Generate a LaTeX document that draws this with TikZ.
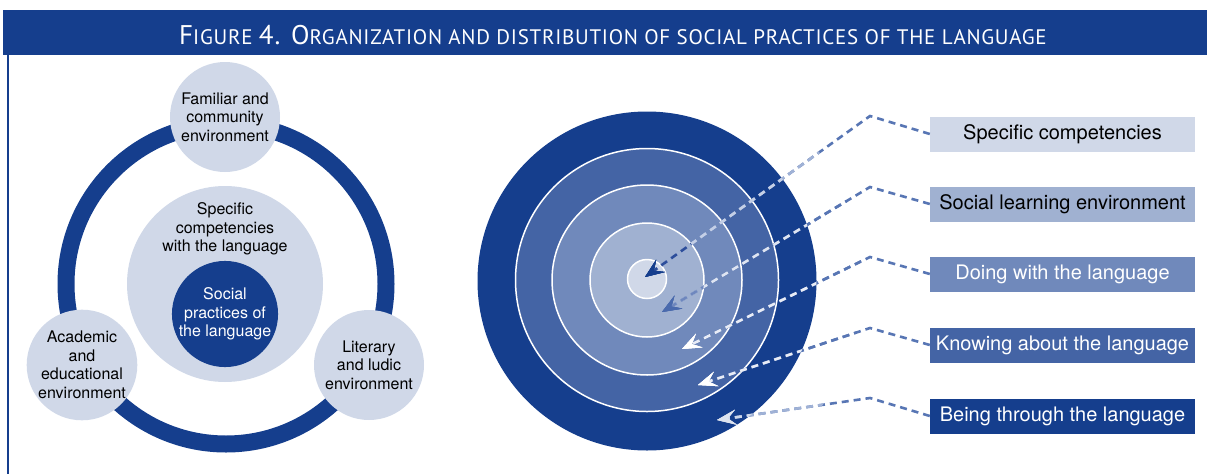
\documentclass[tikz,border=0pt]{standalone}
\usepackage{fontspec}
\setmainfont{TeX Gyre Heros}
\newfontfamily\titlefont[LetterSpace=3.5]{PT Sans}
\usetikzlibrary{arrows.meta}

\definecolor{navy}{RGB}{21,62,141}
\definecolor{pale}{RGB}{208,216,232}
\definecolor{soft}{RGB}{160,177,209}
\definecolor{mid}{RGB}{112,137,187}
\definecolor{deep}{RGB}{68,100,165}
\definecolor{linkblue}{RGB}{88,118,180}
\definecolor{fade}{RGB}{160,178,214}
\definecolor{haze}{RGB}{196,207,230}
\definecolor{mist}{RGB}{222,228,241}
\definecolor{frost}{RGB}{232,236,246}
\definecolor{ice}{RGB}{206,215,235}
\definecolor{core}{RGB}{45,78,155}
\definecolor{corelight}{RGB}{110,135,190}
\definecolor{headlight}{RGB}{74,106,173}
\definecolor{headice}{RGB}{221,227,239}

\newcommand{\titlecap}[1]{{\fontsize{27}{27}\selectfont #1}}
\newcommand{\titlesc}[1]{{\fontsize{21}{21}\selectfont #1}}

\begin{document}
\begin{tikzpicture}[x=1pt, y=-1pt,
    env/.style={circle, fill=pale, minimum size=110pt, inner sep=0pt, align=center, font=\fontsize{16}{18.5}\selectfont},
    layer/.style={minimum width=265pt, minimum height=35pt, inner sep=0pt, font=\fontsize{20}{24}\selectfont},
    link/.style={dash pattern=on 7pt off 5pt, line width=2.6pt},
    tip/.style={-{Stealth[length=19pt, width=15pt, inset=8pt, color=#1]}}]
  \useasboundingbox (0,0) rectangle (1207,474);

  % header
  \fill[navy] (3,10) rectangle (1207,55);
  \draw[navy, line width=2pt] (7.5,55) -- (7.5,474);
  \node[text=white, font=\titlefont, inner sep=0pt] (title) at (613,35)
    {\titlecap{F}\titlesc{IGURE }\titlecap{4. O}\titlesc{RGANIZATION AND DISTRIBUTION OF SOCIAL PRACTICES OF THE LANGUAGE}};

  % environments
  \draw[navy, line width=17pt] (226,284) circle[radius=160];
  \node[circle, fill=pale, minimum size=196pt, inner sep=0pt] (comp) at (225,284) {};
  \node[align=center, font=\fontsize{16}{18.5}\selectfont] (comptext) at (225,229) {Specific\\competencies\\with the language};
  \node[circle, fill=navy, text=white, minimum size=104pt, inner sep=0pt, align=center, font=\fontsize{16}{18.5}\selectfont] (social) at (225,314) {Social\\practices of\\the language};
  \node[env] (family) at (225,117) {Familiar and\\community\\environment};
  \node[env] (academic) at (82,365) {Academic\\and\\educational\\environment};
  \node[env] (literary) at (369,365) {Literary\\and ludic\\environment};

  % target
  \fill[navy] (647,281) circle[radius=169.5];
  \filldraw[fill=deep, draw=white, line width=1.5pt] (647,280) circle[radius=131.5];
  \filldraw[fill=mid, draw=white, line width=1.5pt] (647,280) circle[radius=95];
  \filldraw[fill=soft, draw=white, line width=1.5pt] (647,280) circle[radius=57];
  \filldraw[fill=pale, draw=white, line width=1.5pt] (647,279) circle[radius=19.5];

  % levels
  \node[layer, fill=pale] (b1) at (1062.5,134) {Specific competencies};
  \node[layer, fill=soft] (b2) at (1062.5,204) {Social learning environment};
  \node[layer, fill=mid, text=white] (b3) at (1062.5,274) {Doing with the language};
  \node[layer, fill=deep, text=white] (b4) at (1062.5,345) {Knowing about the language};
  \node[layer, fill=navy, text=white] (b5) at (1062.5,416) {Being through the language};

  \coordinate (k1) at (870,116); \coordinate (t1) at (645,277);
  \coordinate (k2) at (870,187); \coordinate (t2) at (662,312);
  \coordinate (k3) at (870,257); \coordinate (t3) at (682,349);
  \coordinate (k4) at (870,328); \coordinate (t4) at (698,385);
  \coordinate (k5) at (870,398); \coordinate (t5) at (717,420);

  \foreach \i/\near/\inside/\centre/\head in {1/fade/haze/core/navy, 2/linkblue/mist/corelight/headlight, 3/linkblue/frost/frost/white, 4/linkblue/frost/frost/white, 5/fade/ice/ice/headice} {
    \draw[link, linkblue, tip=\head] (b\i.west) -- (k\i) -- (t\i);
    \begin{scope}
      \clip (647,281) circle[radius=215];
      \draw[link, \near, tip=\head] (b\i.west) -- (k\i) -- (t\i);
    \end{scope}
    \begin{scope}
      \clip (647,281) circle[radius=169.5];
      \draw[link, \inside, tip=\head] (b\i.west) -- (k\i) -- (t\i);
    \end{scope}
    \begin{scope}
      \clip (647,280) circle[radius=57];
      \draw[link, \centre, tip=\head] (b\i.west) -- (k\i) -- (t\i);
    \end{scope}
  }
\end{tikzpicture}
\end{document}
